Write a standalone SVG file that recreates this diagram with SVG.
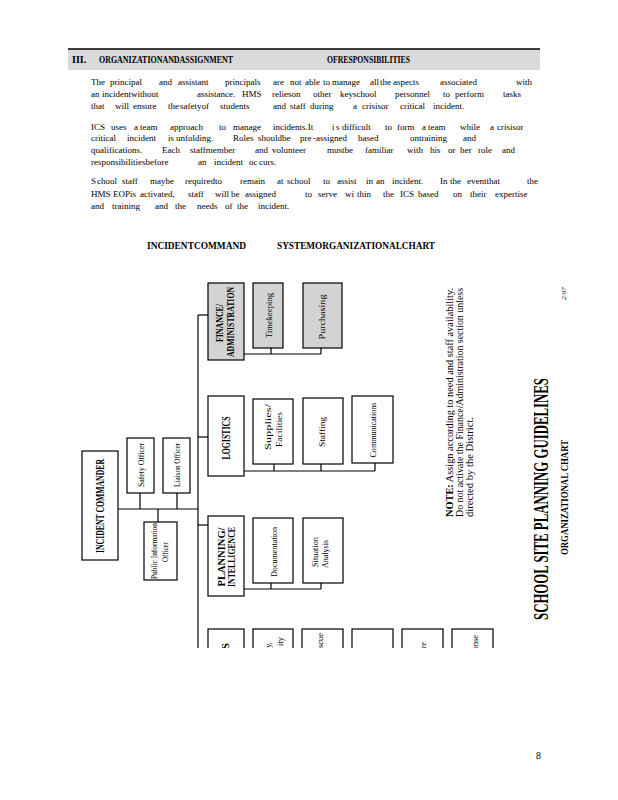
<svg xmlns="http://www.w3.org/2000/svg" width="618" height="800" viewBox="0 0 618 800">
<style>
.t{font-family:"Liberation Serif","DejaVu Serif",serif;fill:#000}
.p{font-size:9px}
.b{font-weight:bold}
.bx{fill:#fff;stroke:#000;stroke-width:1.2}
.gr{fill:#d3d3d3}
.ln{fill:none;stroke:#000;stroke-width:1.2}
.s8{font-size:8.5px}
</style>
<defs>
<clipPath id="cut"><rect x="0" y="0" width="618" height="648"/></clipPath>
</defs>
<rect x="0" y="0" width="618" height="800" fill="#fff"/>
<g id="header">
<rect x="68" y="49" width="472" height="21" fill="#d9d9d9"/>
<line x1="68" y1="49" x2="540" y2="49" stroke="#000" stroke-width="1.5"/>
<text class="t b" font-size="10" x="72" y="63">III.</text>
<text class="t b" font-size="10" x="99" y="63" textLength="134" lengthAdjust="spacingAndGlyphs">ORGANIZATIONANDASSIGNMENT</text>
<text class="t b" font-size="10" x="327" y="63" textLength="83" lengthAdjust="spacingAndGlyphs">OFRESPONSIBILITIES</text>
</g>
<g id="paragraphs" class="t p">
<text y="85"><tspan x="91">The</tspan><tspan x="110">principal</tspan><tspan x="159">and</tspan><tspan x="178">assistant</tspan><tspan x="225">principals</tspan><tspan x="273">are</tspan><tspan x="290">not</tspan><tspan x="305">able</tspan><tspan x="323">to</tspan><tspan x="332">manage</tspan><tspan x="370">all</tspan><tspan x="380">the</tspan><tspan x="393">aspects</tspan><tspan x="440">associated</tspan><tspan x="516">with</tspan></text>
<text y="97"><tspan x="91">an</tspan><tspan x="102">incidentwithout</tspan><tspan x="197">assistance.</tspan><tspan x="242">HMS</tspan><tspan x="272">relieson</tspan><tspan x="313">other</tspan><tspan x="340">keyschool</tspan><tspan x="395">personnel</tspan><tspan x="443">to</tspan><tspan x="455">perform</tspan><tspan x="503">tasks</tspan></text>
<text y="109"><tspan x="91">that</tspan><tspan x="115">will</tspan><tspan x="133">ensure</tspan><tspan x="168">the</tspan><tspan x="180">safetyof</tspan><tspan x="220">students</tspan><tspan x="273">and</tspan><tspan x="290">staff</tspan><tspan x="310">during</tspan><tspan x="353">a</tspan><tspan x="362">crisisor</tspan><tspan x="400">critical</tspan><tspan x="433">incident.</tspan></text>
<text y="129.5"><tspan x="91">ICS</tspan><tspan x="111">uses</tspan><tspan x="134">a</tspan><tspan x="140">team</tspan><tspan x="170">approach</tspan><tspan x="219">to</tspan><tspan x="233">manage</tspan><tspan x="273">incidents.It</tspan><tspan x="332">i</tspan><tspan x="336">s</tspan><tspan x="342">difficult</tspan><tspan x="385">to</tspan><tspan x="397">form</tspan><tspan x="422">a</tspan><tspan x="428">team</tspan><tspan x="460">while</tspan><tspan x="490">a</tspan><tspan x="497">crisisor</tspan></text>
<text y="141"><tspan x="91">critical</tspan><tspan x="127">incident</tspan><tspan x="168">is</tspan><tspan x="176">unfolding.</tspan><tspan x="233">Roles</tspan><tspan x="258">shouldbe</tspan><tspan x="300">pre</tspan><tspan x="313">-assigned</tspan><tspan x="358">based</tspan><tspan x="410">ontraining</tspan><tspan x="463">and</tspan></text>
<text y="153"><tspan x="91">qualifications.</tspan><tspan x="162">Each</tspan><tspan x="190">staffmember</tspan><tspan x="255">and</tspan><tspan x="272">volunteer</tspan><tspan x="327">mustbe</tspan><tspan x="365">familiar</tspan><tspan x="407">with</tspan><tspan x="430">his</tspan><tspan x="448">or</tspan><tspan x="460">her</tspan><tspan x="478">role</tspan><tspan x="502">and</tspan></text>
<text y="164.5"><tspan x="91">responsibilitiesbefore</tspan><tspan x="198">an</tspan><tspan x="214">incident</tspan><tspan x="249">oc</tspan><tspan x="259">curs.</tspan></text>
<text y="184"><tspan x="91">S</tspan><tspan x="97">chool</tspan><tspan x="122">staff</tspan><tspan x="150">maybe</tspan><tspan x="185">requiredto</tspan><tspan x="240">remain</tspan><tspan x="277">at</tspan><tspan x="287">school</tspan><tspan x="323">to</tspan><tspan x="337">assist</tspan><tspan x="366">in</tspan><tspan x="376">an</tspan><tspan x="392">incident.</tspan><tspan x="440">In</tspan><tspan x="450">the</tspan><tspan x="467">eventthat</tspan><tspan x="527">the</tspan></text>
<text y="196.5"><tspan x="91">HMS</tspan><tspan x="113">EOPis</tspan><tspan x="140">activated,</tspan><tspan x="188">staff</tspan><tspan x="215">will</tspan><tspan x="231">be</tspan><tspan x="245">assigned</tspan><tspan x="305">to</tspan><tspan x="318">serve</tspan><tspan x="345">wi</tspan><tspan x="357">thin</tspan><tspan x="383">the</tspan><tspan x="400">ICS</tspan><tspan x="418">based</tspan><tspan x="453">on</tspan><tspan x="470">their</tspan><tspan x="495">expertise</tspan></text>
<text y="208.5"><tspan x="91">and</tspan><tspan x="112">training</tspan><tspan x="155">and</tspan><tspan x="175">the</tspan><tspan x="197">needs</tspan><tspan x="225">of</tspan><tspan x="237">the</tspan><tspan x="258">incident.</tspan></text>
</g>
<g id="title">
<text class="t b" font-size="10" x="147" y="249" textLength="99" lengthAdjust="spacingAndGlyphs">INCIDENTCOMMAND</text>
<text class="t b" font-size="10" x="277" y="249" textLength="158" lengthAdjust="spacingAndGlyphs">SYSTEMORGANIZATIONALCHART</text>
</g>
<g id="connectors" class="ln">
<path d="M198,315 V648"/>
<path d="M198,315 H208"/>
<path d="M198,437 H208"/>
<path d="M198,525 H208"/>
<path d="M118,509 H198"/>
<path d="M140,493 V509 M177,493 V509 M158,509 V522"/>
<path d="M244,354 H321 M271,348 V354 M321,348 V354"/>
<path d="M244,471 H375 M274,464 V471 M321,464 V471 M375,463 V471"/>
<path d="M244,589 H321 M271,583 V589 M321,583 V589"/>
</g>
<g id="incident-commander">
<rect class="bx" x="82" y="451" width="36" height="109"/>
<text class="t b" font-size="12" transform="translate(100,506) rotate(-90)" y="4.2" text-anchor="middle" textLength="94" lengthAdjust="spacingAndGlyphs">INCIDENT COMMANDER</text>
</g>
<g id="safety-officer">
<rect class="bx" x="127" y="438" width="27" height="55"/>
<text class="t s8" transform="translate(140.5,465) rotate(-90)" y="3" text-anchor="middle" textLength="44" lengthAdjust="spacingAndGlyphs">Safety Officer</text>
</g>
<g id="liaison-officer">
<rect class="bx" x="163" y="438" width="27" height="55"/>
<text class="t s8" transform="translate(176.5,465) rotate(-90)" y="3" text-anchor="middle" textLength="44" lengthAdjust="spacingAndGlyphs">Liaison Officer</text>
</g>
<g id="public-information-officer">
<rect class="bx" x="144" y="522" width="33" height="58"/>
<text class="t s8" transform="translate(153.5,551) rotate(-90)" y="3" text-anchor="middle" textLength="56" lengthAdjust="spacingAndGlyphs">Public Information</text>
<text class="t s8" transform="translate(165,552) rotate(-90)" y="3" text-anchor="middle" textLength="20" lengthAdjust="spacingAndGlyphs">Officer</text>
</g>
<g id="finance-administration">
<rect class="bx gr" x="208" y="283" width="36" height="77"/>
<text class="t b" font-size="10.5" transform="translate(219,323) rotate(-90)" y="3.6" text-anchor="middle" textLength="38" lengthAdjust="spacingAndGlyphs">FINANCE/</text>
<text class="t b" font-size="10.5" transform="translate(230,322) rotate(-90)" y="3.6" text-anchor="middle" textLength="70" lengthAdjust="spacingAndGlyphs">ADMINISTRATION</text>
</g>
<g id="timekeeping">
<rect class="bx gr" x="253" y="283" width="30" height="65"/>
<text class="t s8" transform="translate(269,315.5) rotate(-90)" y="3" text-anchor="middle" textLength="45" lengthAdjust="spacingAndGlyphs">Timekeeping</text>
</g>
<g id="purchasing">
<rect class="bx gr" x="303" y="283" width="39" height="65"/>
<text class="t s8" transform="translate(321.5,317) rotate(-90)" y="3" text-anchor="middle" textLength="45" lengthAdjust="spacingAndGlyphs">Purchasing</text>
</g>
<g id="logistics">
<rect class="bx" x="208" y="396" width="36" height="80"/>
<text class="t b" font-size="12" transform="translate(226,438) rotate(-90)" y="4.2" text-anchor="middle" textLength="43" lengthAdjust="spacingAndGlyphs">LOGISTICS</text>
</g>
<g id="supplies-facilities">
<rect class="bx" x="253" y="399" width="40" height="65"/>
<text class="t s8" transform="translate(268,427) rotate(-90)" y="3" text-anchor="middle" textLength="46" lengthAdjust="spacingAndGlyphs">Supplies/</text>
<text class="t s8" transform="translate(278.5,429.5) rotate(-90)" y="3" text-anchor="middle" textLength="35" lengthAdjust="spacingAndGlyphs">Facilities</text>
</g>
<g id="staffing">
<rect class="bx" x="303" y="398" width="40" height="66"/>
<text class="t s8" transform="translate(321.5,432) rotate(-90)" y="3" text-anchor="middle" textLength="30" lengthAdjust="spacingAndGlyphs">Staffing</text>
</g>
<g id="communications">
<rect class="bx" x="352" y="396" width="41" height="67"/>
<text class="t s8" transform="translate(373,430) rotate(-90)" y="3" text-anchor="middle" textLength="55" lengthAdjust="spacingAndGlyphs">Communications</text>
</g>
<g id="planning-intelligence">
<rect class="bx" x="208" y="516" width="36" height="80"/>
<text class="t b" font-size="10.5" transform="translate(221,557) rotate(-90)" y="3.6" text-anchor="middle" textLength="59" lengthAdjust="spacingAndGlyphs">PLANNING/</text>
<text class="t b" font-size="10.5" transform="translate(231.5,557) rotate(-90)" y="3.6" text-anchor="middle" textLength="60" lengthAdjust="spacingAndGlyphs">INTELLIGENCE</text>
</g>
<g id="documentation">
<rect class="bx" x="253" y="518" width="40" height="65"/>
<text class="t s8" transform="translate(274,552) rotate(-90)" y="3" text-anchor="middle" textLength="50" lengthAdjust="spacingAndGlyphs">Documentation</text>
</g>
<g id="situation-analysis">
<rect class="bx" x="303" y="518" width="40" height="65"/>
<text class="t s8" transform="translate(314.5,552) rotate(-90)" y="3" text-anchor="middle" textLength="30" lengthAdjust="spacingAndGlyphs">Situation</text>
<text class="t s8" transform="translate(324.5,554) rotate(-90)" y="3" text-anchor="middle" textLength="28" lengthAdjust="spacingAndGlyphs">Analysis</text>
</g>
<g clip-path="url(#cut)">
<g id="operations">
<rect class="bx" x="208" y="629" width="36" height="40"/>
<text class="t b" font-size="11" transform="translate(225,643) rotate(-90)" y="3.8" text-anchor="end">S</text>
</g>
<g id="ops-sub-1">
<rect class="bx" x="253" y="629" width="40" height="40"/>
<text class="t s8" transform="translate(268,642) rotate(-90)" y="3" text-anchor="end">y,</text>
<text class="t s8" transform="translate(279.5,637) rotate(-90)" y="3" text-anchor="end">ity</text>
</g>
<g id="ops-sub-2">
<rect class="bx" x="302" y="629" width="41" height="40"/>
<text class="t s8" transform="translate(320,633) rotate(-90)" y="3" text-anchor="end">scue</text>
</g>
<g id="ops-sub-3">
<rect class="bx" x="352" y="629" width="41" height="40"/>
</g>
<g id="ops-sub-4">
<rect class="bx" x="402" y="629" width="41" height="40"/>
<text class="t s8" transform="translate(422.5,642) rotate(-90)" y="3" text-anchor="end">re</text>
</g>
<g id="ops-sub-5">
<rect class="bx" x="452" y="629" width="41" height="40"/>
<text class="t s8" transform="translate(474.5,635) rotate(-90)" y="3" text-anchor="end">onse</text>
</g>
</g>
<g id="side-text" class="t">
<text font-size="10.5" transform="translate(453,517) rotate(-90)" textLength="229" lengthAdjust="spacingAndGlyphs"><tspan font-weight="bold">NOTE:</tspan> Assign according to need and staff availability.</text>
<text font-size="10.5" transform="translate(463,517) rotate(-90)" textLength="229" lengthAdjust="spacingAndGlyphs">Do not activate the Finance/Administration section unless</text>
<text font-size="10.5" transform="translate(473,517) rotate(-90)" textLength="100" lengthAdjust="spacingAndGlyphs">directed by the District.</text>
<text class="b" font-size="20" transform="translate(548,620) rotate(-90)" textLength="242" lengthAdjust="spacingAndGlyphs">SCHOOL SITE PLANNING GUIDELINES</text>
<text class="b" font-size="10" transform="translate(568,555) rotate(-90)" textLength="115" lengthAdjust="spacingAndGlyphs">ORGANIZATIONAL CHART</text>
<text font-size="7" font-style="italic" transform="translate(566,300) rotate(-90)" textLength="13" lengthAdjust="spacingAndGlyphs">2/97</text>
</g>
<text class="t" font-size="10" x="536" y="759">8</text>
</svg>
